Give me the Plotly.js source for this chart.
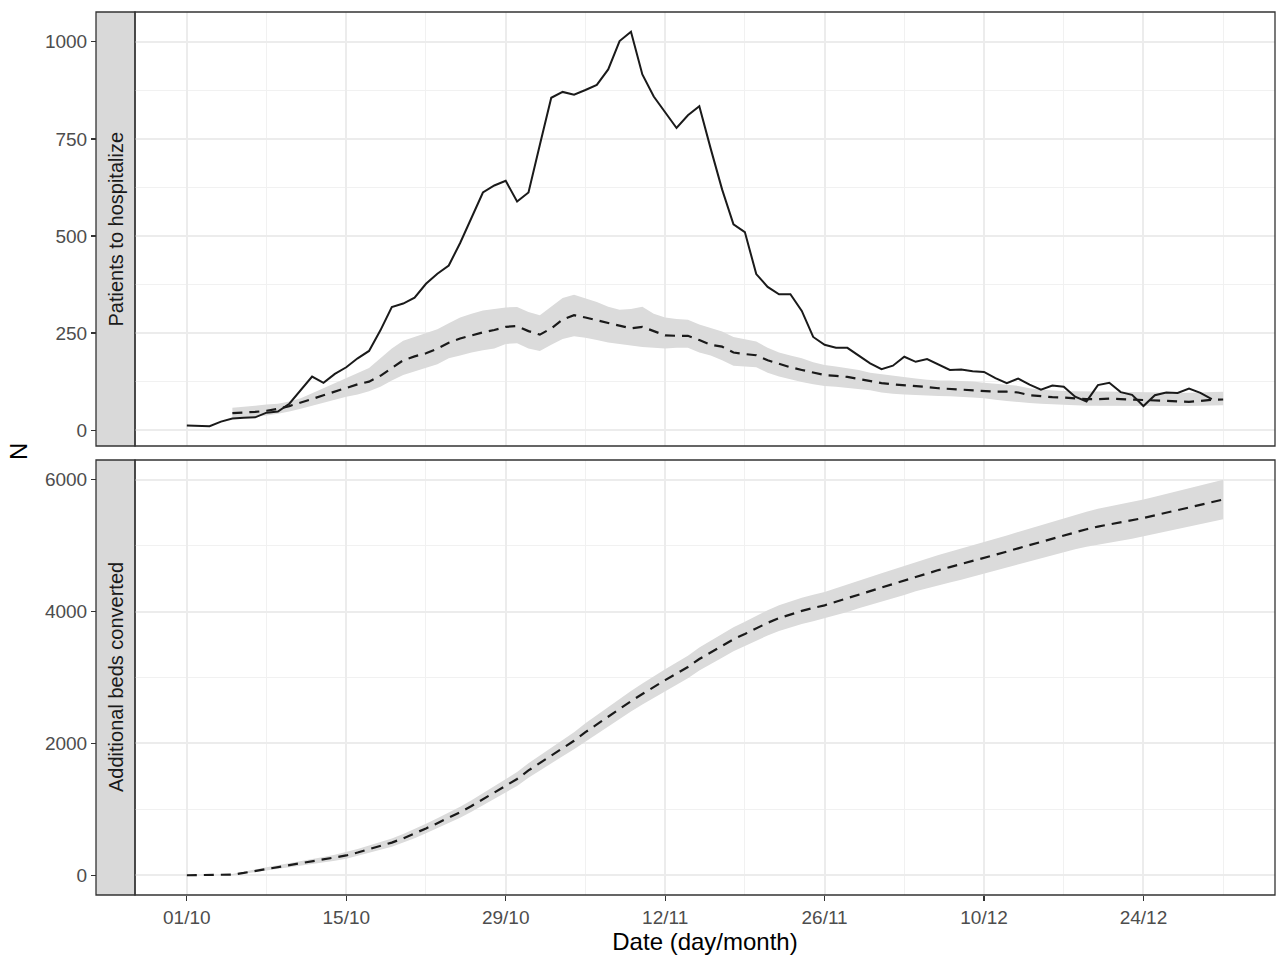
<!DOCTYPE html>
<html>
<head>
<meta charset="utf-8">
<script src="https://cdn.plot.ly/plotly-3.0.1.min.js"></script>
<style>html,body{margin:0;padding:0;background:#fff;}#chart{width:1277px;height:956px;}</style>
</head>
<body>
<div id="chart"></div>
<script>
// Day 0 = 01/10/2020, one value per day
const startDate = '2020-10-01';
const panelLabels = ['Patients to hospitalize', 'Additional beds converted'];
const xTitle = 'Date (day/month)';
const yTitle = 'N';
const xTickDates = ['2020-10-01','2020-10-15','2020-10-29','2020-11-12','2020-11-26','2020-12-10','2020-12-24'];
const xTickText = ['01/10','15/10','29/10','12/11','26/11','10/12','24/12'];
const xMinorDates = ['2020-09-24','2020-10-08','2020-10-22','2020-11-05','2020-11-19','2020-12-03','2020-12-17','2020-12-31'];

// Observed patients to hospitalize (solid), 01/10 .. 30/12
const observed = [12,11,10,22,30,32,33,45,48,68,
  103,138,122,145,162,185,204,257,317,326,
  341,377,403,424,482,545,612,630,642,589,
  612,735,856,871,864,876,889,929,1002,1026,
  916,859,818,778,811,834,725,620,530,510,
  402,369,350,350,307,240,220,212,212,191,
  172,157,166,189,176,183,168,155,156,152,
  150,134,121,133,117,104,115,112,86,74,
  116,122,98,91,62,90,97,96,107,96,80];

// Model median (dashed) and band, 01/10 .. 31/12
const hospModel = [null,null,null,null,44,45,47,50,55,62,70,80,90,100,
  110,118,125,140,160,180,190,198,210,225,
  236,244,252,258,266,268,255,246,262,285,
  296,290,283,276,268,262,266,255,244,243,
  243,232,220,215,200,196,193,180,170,162,
  155,148,142,140,137,132,126,121,118,116,
  114,111,108,106,105,102,100,99,99,97,
  90,87,85,84,82,80,80,81,80,79,
  78,77,76,74,73,75,78,79];
const hospHigh = [null,null,null,null,58,60,63,66,68,74,82,95,108,122,
  135,148,160,185,210,230,240,248,260,275,
  290,300,308,312,316,317,304,296,318,340,
  349,340,330,318,310,312,318,300,290,286,
  284,272,262,254,240,234,228,212,200,192,
  185,175,168,164,160,155,148,144,140,136,
  133,130,128,128,127,125,122,120,117,114,
  108,104,102,101,100,100,100,99,99,98,
  98,97,97,96,96,97,98,99];
const hospLow = [null,null,null,null,30,32,35,38,42,48,55,62,70,78,
  86,92,100,112,128,142,150,160,170,185,
  192,200,206,210,222,224,210,204,220,235,
  242,238,232,226,222,218,214,212,210,212,
  212,200,192,180,166,164,162,148,138,132,
  124,118,114,112,110,106,103,97,94,92,
  90,89,88,87,86,84,82,78,75,72,
  70,68,66,65,64,63,63,63,62,62,
  62,62,62,62,62,63,64,64];

// Additional beds converted (cumulative), 01/10 .. 31/12
const bedsModel = [0,0,0,0,10,35,65,95,125,150,
  180,205,235,265,300,345,395,445,495,560,
  630,710,790,870,955,1050,1150,1250,1355,1460,
  1590,1700,1820,1930,2040,2170,2290,2400,2520,2640,
  2750,2860,2960,3060,3160,3280,3380,3480,3580,3660,
  3750,3830,3900,3960,4010,4055,4095,4150,4200,4260,
  4310,4365,4420,4470,4530,4580,4630,4675,4720,4765,
  4810,4860,4910,4960,5010,5060,5110,5160,5210,5250,
  5290,5320,5350,5385,5420,5460,5500,5540,5580,5620,
  5660,5700];
const bedsLow = [0,0,0,0,0,20,45,70,97,119,
  146,168,195,220,250,292,339,386,433,495,
  562,638,714,790,871,962,1058,1154,1255,1355,
  1480,1585,1700,1805,1910,2035,2150,2255,2370,2486,
  2592,2698,2795,2892,2989,3106,3203,3300,3397,3474,
  3561,3638,3705,3762,3810,3853,3891,3944,3992,4049,
  4097,4150,4202,4250,4307,4354,4401,4443,4485,4527,
  4570,4617,4664,4711,4758,4805,4852,4900,4947,4984,
  5021,5048,5075,5107,5140,5177,5214,5251,5288,5325,
  5362,5400];
const bedsHigh = [0,0,0,0,20,50,85,120,153,181,
  214,242,275,310,350,398,451,504,557,625,
  698,782,866,950,1039,1138,1242,1346,1455,1565,
  1700,1815,1940,2055,2170,2305,2430,2545,2670,2794,
  2908,3022,3125,3228,3331,3454,3557,3660,3763,3846,
  3939,4022,4095,4158,4210,4257,4299,4356,4408,4471,
  4523,4580,4638,4690,4753,4806,4859,4907,4955,5003,
  5050,5103,5156,5209,5262,5315,5368,5420,5473,5516,
  5559,5592,5625,5663,5700,5743,5786,5829,5872,5915,
  5958,6000];

const hospTicks = [0, 250, 500, 750, 1000];
const hospMinor = [125, 375, 625, 875];
const bedsTicks = [0, 2000, 4000, 6000];
const bedsMinor = [1000, 3000, 5000];

function dayStr(i) {
  const p = startDate.split('-').map(Number);
  const d = new Date(Date.UTC(p[0], p[1] - 1, p[2] + i));
  return d.toISOString().slice(0, 10);
}
const dates = bedsModel.map((_, i) => dayStr(i));
const obsDates = observed.map((_, i) => dayStr(i));

function band(lo, hi, xa, ya) {
  const xs = [], ys = [], xr = [], yr = [];
  for (let i = 0; i < dates.length; i++) {
    if (lo[i] == null || hi[i] == null) continue;
    xs.push(dates[i]); ys.push(hi[i]);
    xr.unshift(dates[i]); yr.unshift(lo[i]);
  }
  return {x: xs.concat(xr), y: ys.concat(yr), type: 'scatter', mode: 'lines',
    fill: 'toself', fillcolor: '#dbdbdb', line: {width: 0, color: '#dbdbdb'},
    xaxis: xa, yaxis: ya, hoverinfo: 'skip'};
}

const FONT = 'Liberation Sans, Arial, Helvetica, sans-serif';
const dash = '10px,7px';

const traces = [
  band(hospLow, hospHigh, 'x2', 'y2'),
  {x: dates, y: hospModel, type: 'scatter', mode: 'lines', xaxis: 'x2', yaxis: 'y2',
    line: {color: '#1a1a1a', width: 2.2, dash: dash}, connectgaps: false},
  {x: obsDates, y: observed, type: 'scatter', mode: 'lines', xaxis: 'x2', yaxis: 'y2',
    line: {color: '#1a1a1a', width: 2}},
  band(bedsLow, bedsHigh, 'x', 'y'),
  {x: dates, y: bedsModel, type: 'scatter', mode: 'lines', xaxis: 'x', yaxis: 'y',
    line: {color: '#1a1a1a', width: 2.2, dash: dash}}
];

const W = 1277, H = 956;
const px = v => v / W;
const py = v => 1 - v / H;
const xDom = [px(135), px(1275)];
const topDom = [py(446), py(12)];
const botDom = [py(895), py(460)];
const stripX = [px(96), px(135)];

const xRange = ['2020-09-26 10:48', '2021-01-04 13:12'];
const gridC = '#ececec', minorC = '#f1f1f1';
const gridW = 2, minorW = 1;

const xCommon = {
  type: 'date', domain: xDom, range: xRange, tickmode: 'array', tickvals: xTickDates, ticktext: xTickText,
  showgrid: true, gridcolor: gridC, gridwidth: gridW,
  minor: {tickmode: 'array', tickvals: xMinorDates, showgrid: true, gridcolor: minorC, gridwidth: minorW},
  zeroline: false, showline: false, automargin: false, fixedrange: true
};
const yCommon = {
  anchor: 'free', position: px(96), showgrid: true, gridcolor: gridC, gridwidth: gridW,
  zeroline: false, showline: false, ticks: 'outside', ticklen: 5, tickwidth: 1.2,
  tickcolor: '#333333', tickfont: {family: FONT, size: 19, color: '#4d4d4d'},
  automargin: false, fixedrange: true, tickmode: 'array'
};

const layout = {
  width: W, height: H, margin: {l: 0, r: 0, t: 0, b: 0},
  paper_bgcolor: '#ffffff', plot_bgcolor: '#ffffff', showlegend: false,
  font: {family: FONT},
  xaxis: Object.assign({}, xCommon, {anchor: 'y', ticks: 'outside', ticklen: 5, tickwidth: 1.2,
    tickcolor: '#333333', tickfont: {family: FONT, size: 19, color: '#4d4d4d'},
    title: {text: xTitle, font: {family: FONT, size: 24, color: '#000000'}, standoff: 6}}),
  xaxis2: Object.assign({}, xCommon, {anchor: 'y2', matches: 'x', showticklabels: false, ticks: ''}),
  yaxis: Object.assign({}, yCommon, {domain: botDom, range: [-300, 6300], tickvals: bedsTicks,
    minor: {tickmode: 'array', tickvals: bedsMinor, showgrid: true, gridcolor: minorC, gridwidth: minorW}}),
  yaxis2: Object.assign({}, yCommon, {domain: topDom, range: [-40.8, 1076.8], tickvals: hospTicks,
    minor: {tickmode: 'array', tickvals: hospMinor, showgrid: true, gridcolor: minorC, gridwidth: minorW}}),
  shapes: [
    {type: 'rect', xref: 'paper', yref: 'paper', x0: stripX[0], x1: stripX[1], y0: topDom[0], y1: topDom[1],
      fillcolor: '#d9d9d9', line: {color: '#333333', width: 1.3}, layer: 'below'},
    {type: 'rect', xref: 'paper', yref: 'paper', x0: stripX[0], x1: stripX[1], y0: botDom[0], y1: botDom[1],
      fillcolor: '#d9d9d9', line: {color: '#333333', width: 1.3}, layer: 'below'},
    {type: 'rect', xref: 'paper', yref: 'paper', x0: xDom[0], x1: xDom[1], y0: topDom[0], y1: topDom[1],
      line: {color: '#333333', width: 1.3}, layer: 'above'},
    {type: 'rect', xref: 'paper', yref: 'paper', x0: xDom[0], x1: xDom[1], y0: botDom[0], y1: botDom[1],
      line: {color: '#333333', width: 1.3}, layer: 'above'}
  ],
  annotations: [
    {text: panelLabels[0], xref: 'paper', yref: 'paper', x: (stripX[0] + stripX[1]) / 2,
      y: (topDom[0] + topDom[1]) / 2, xanchor: 'center', yanchor: 'middle', textangle: -90, showarrow: false,
      font: {family: FONT, size: 20, color: '#1a1a1a'}},
    {text: panelLabels[1], xref: 'paper', yref: 'paper', x: (stripX[0] + stripX[1]) / 2,
      y: (botDom[0] + botDom[1]) / 2, xanchor: 'center', yanchor: 'middle', textangle: -90, showarrow: false,
      font: {family: FONT, size: 20, color: '#1a1a1a'}},
    {text: yTitle, xref: 'paper', yref: 'paper', x: px(18), y: py(452), xanchor: 'center', yanchor: 'middle',
      textangle: -90, showarrow: false, font: {family: FONT, size: 24, color: '#000000'}}
  ]
};

Plotly.newPlot('chart', traces, layout, {displayModeBar: false, staticPlot: true});
</script>
</body>
</html>
